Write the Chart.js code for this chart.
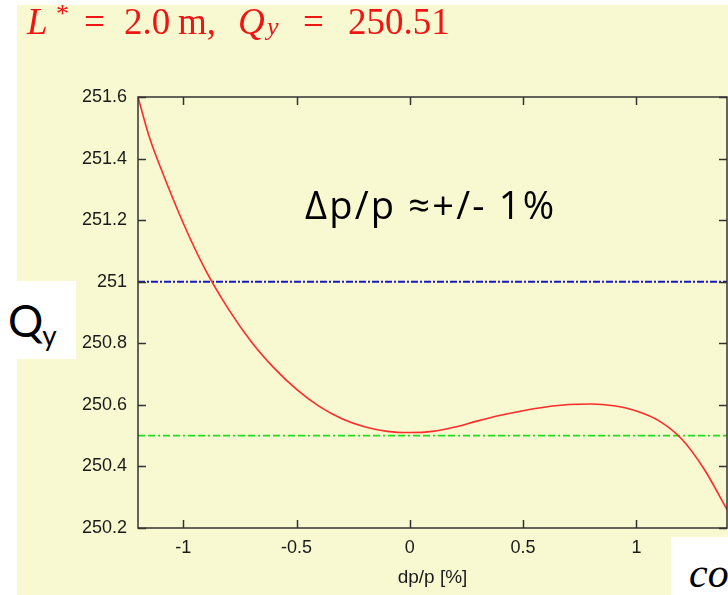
<!DOCTYPE html>
<html>
<head>
<meta charset="utf-8">
<title>Qy vs dp/p</title>
<script src="https://cdn.jsdelivr.net/npm/chart.js@4"></script>
<style>
  html, body { margin: 0; padding: 0; background: #fff; }
  #wrap { position: relative; width: 728px; height: 595px; overflow: hidden; }
  #panel { position: absolute; left: 17px; top: 5px; width: 711px; height: 590px; background: #f9f9d1; }
  canvas { position: absolute; left: 0; top: 0; }
  .txt { position: absolute; white-space: nowrap; line-height: 1; }
  #title { position: absolute; left: 0; top: 0; width: 460px; height: 50px;
           font-family: "Liberation Serif", serif; font-size: 37px; color: #f01414; }
  #title span { position: absolute; top: 3px; line-height: 1; white-space: nowrap; }
  #title .it { font-style: italic; }
  #title .sup { font-size: 26px; top: 1px; }
  #title .sub { font-size: 26px; top: 14px; font-style: italic; }
  #qbox { position: absolute; left: 0; top: 281px; width: 76px; height: 78px; background: #fff; }
  #qlab { left: 8px; top: 298px; font-family: Lato, sans-serif; font-size: 44px; color: #000; }
  #qlab .sub { font-size: 28px; position: relative; top: 9px; margin-left: -1px; }
  #note { left: 305px; top: 185px; font-family: "Open Sans", sans-serif; font-size: 38px; letter-spacing: 2.2px; color: #000; }
  #cobox { position: absolute; left: 671px; top: 537px; width: 57px; height: 58px; background: #fff; overflow: hidden; }
  #co { left: 18px; top: 15px; font-family: "Liberation Serif", serif; font-style: italic; font-size: 42px; color: #000; }
</style>
</head>
<body>
<div id="wrap">
  <div id="panel"></div>
  <canvas id="tuneChart" width="728" height="595"></canvas>
  <div id="title">
    <span class="it" style="left:27px">L</span>
    <span class="sup" style="left:56px">*</span>
    <span style="left:84px">=</span>
    <span style="left:124px">2.0</span>
    <span style="left:178px">m,</span>
    <span class="it" style="left:238px">Q</span>
    <span class="sub" style="left:267px">y</span>
    <span style="left:303px">=</span>
    <span style="left:348px">250.51</span>
  </div>
  <div id="qbox"></div>
  <div class="txt" id="qlab">Q<span class="sub">y</span></div>
  <div class="txt" id="note">Δp/p ≈+/- 1%</div>
  <div id="cobox"><div class="txt" id="co">co</div></div>
</div>
<script>
// momentum offset dp/p [%] and vertical tune Qy
const dp = [-1.2, -1.15, -1.1, -1.0, -0.9, -0.8, -0.7, -0.6, -0.5, -0.4, -0.3, -0.2, -0.1, 0.0,
            0.1, 0.2, 0.3, 0.4, 0.5, 0.6, 0.7, 0.8, 0.9, 1.0, 1.1, 1.2, 1.3, 1.4];
const qy = [251.60, 251.47, 251.37, 251.19, 251.035, 250.91, 250.805, 250.72, 250.65, 250.595, 250.555, 250.529, 250.514, 250.51,
            250.514, 250.528, 250.548, 250.566, 250.581, 250.593, 250.601, 250.603, 250.597, 250.58, 250.548, 250.489, 250.39, 250.26];

// reference levels: integer tune and nominal tune
const upperLevel = 251.0;
const nominalLevel = 250.5;

const xTicks = [-1, -0.5, 0, 0.5, 1];
const xTickLabels = ["-1", "-0.5", "0", "0.5", "1"];
const yTicks = [250.2, 250.4, 250.6, 250.8, 251.0, 251.2, 251.4, 251.6];
const yTickLabels = ["250.2", "250.4", "250.6", "250.8", "251", "251.2", "251.4", "251.6"];

const xMin = -1.2, xMax = 1.4;

const curve = dp.map((x, i) => ({ x: x, y: qy[i] }));
const hline = (v) => [{ x: xMin, y: v }, { x: xMax, y: v }];

// gnuplot style box with inward ticks on all four sides
const framePlugin = {
  id: "frame",
  afterDraw(chart) {
    const { ctx, chartArea: a, scales: { x, y } } = chart;
    const len = 8;
    ctx.save();
    ctx.strokeStyle = "#333";
    ctx.lineWidth = 1.5;
    ctx.strokeRect(a.left, a.top, a.right - a.left, a.bottom - a.top);
    ctx.beginPath();
    x.ticks.forEach(t => {
      const px = Math.round(x.getPixelForValue(t.value)) + 0.5;
      ctx.moveTo(px, a.bottom); ctx.lineTo(px, a.bottom - len);
      ctx.moveTo(px, a.top); ctx.lineTo(px, a.top + len);
    });
    y.ticks.forEach(t => {
      const py = Math.round(y.getPixelForValue(t.value)) + 0.5;
      ctx.moveTo(a.left, py); ctx.lineTo(a.left + len, py);
      ctx.moveTo(a.right, py); ctx.lineTo(a.right - len, py);
    });
    ctx.stroke();
    ctx.restore();
  }
};

const tickFont = { family: "'Liberation Sans', Arial, sans-serif", size: 18 };

new Chart(document.getElementById("tuneChart"), {
  type: "line",
  data: {
    datasets: [
      {
        label: "Qy(dp/p)",
        data: curve,
        borderColor: "#ff2a2a",
        borderWidth: 1.6,
        pointRadius: 0,
        cubicInterpolationMode: "monotone",
        fill: false,
      },
      {
        label: "251",
        data: hline(upperLevel),
        borderColor: "#1818c0",
        borderWidth: 2,
        borderDash: [7, 2, 2, 2],
        pointRadius: 0,
        fill: false,
      },
      {
        label: "250.5",
        data: hline(nominalLevel),
        borderColor: "#1ee01e",
        borderWidth: 1.6,
        borderDash: [7, 3, 7, 3, 2, 3],
        pointRadius: 0,
        fill: false,
      },
    ],
  },
  options: {
    responsive: false,
    animation: false,
    devicePixelRatio: 1,
    layout: { padding: { top: 97, right: 1, left: 0, bottom: 0 } },
    plugins: {
      legend: { display: false },
      tooltip: { enabled: false },
    },
    scales: {
      x: {
        type: "linear",
        min: xMin,
        max: xMax,
        afterBuildTicks: (scale) => { scale.ticks = xTicks.map(v => ({ value: v })); },
        afterFit: (scale) => { scale.height = 67; },
        grid: { display: false, drawTicks: false },
        border: { display: false },
        ticks: {
          color: "#1a1a1a",
          font: tickFont,
          padding: 9,
          maxRotation: 0,
          callback: (v, i) => xTickLabels[i],
        },
        title: {
          display: true,
          text: "dp/p [%]",
          color: "#1a1a1a",
          font: { family: "'Liberation Sans', Arial, sans-serif", size: 19 },
          padding: { top: 0, bottom: 6 },
        },
      },
      y: {
        type: "linear",
        min: 250.2,
        max: 251.6,
        afterBuildTicks: (scale) => { scale.ticks = yTicks.map(v => ({ value: v })); },
        afterFit: (scale) => { scale.width = 138; },
        grid: { display: false, drawTicks: false },
        border: { display: false },
        ticks: {
          color: "#1a1a1a",
          font: tickFont,
          padding: 11,
          callback: (v, i) => yTickLabels[i],
        },
      },
    },
  },
  plugins: [framePlugin],
});
</script>
</body>
</html>
